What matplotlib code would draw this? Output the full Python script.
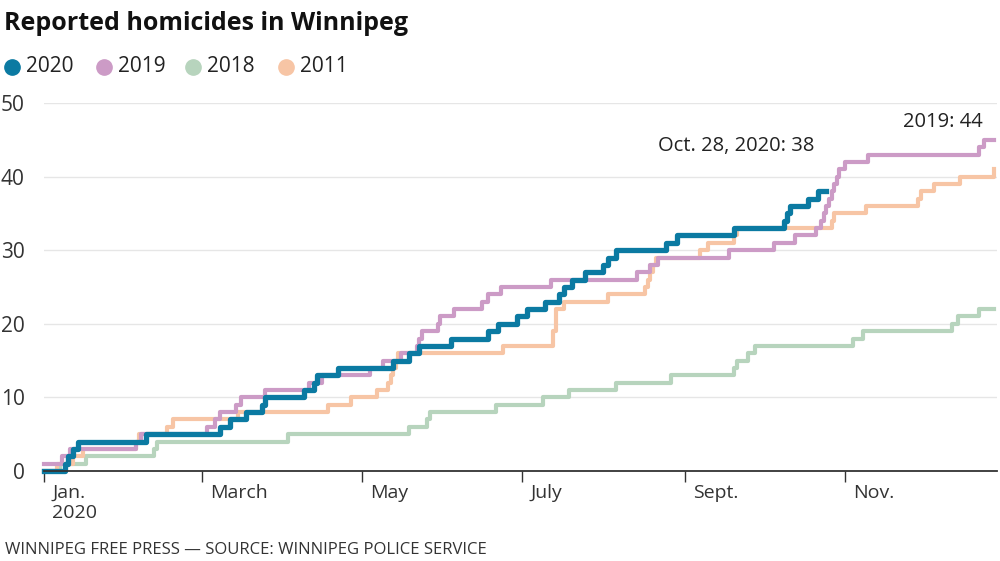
import matplotlib
matplotlib.use("Agg")
import matplotlib.pyplot as plt
from matplotlib.lines import Line2D

plt.rcParams['font.family'] = ['Open Sans', 'DejaVu Sans']

# ---- data (day of year, cumulative count) ----
days20 = [0, 8, 9, 11, 13, 39, 67, 71, 77, 83, 84, 99, 103, 104, 112, 133, 139, 143, 155, 169,
          173, 180, 184, 191, 196, 198, 201, 206, 213, 215, 218, 237, 241, 263, 282, 283, 284, 291, 295, 298]
vals20 = [0, 1, 2, 3, 4, 5, 6, 7, 8, 9, 10, 11, 12, 13, 14, 15, 16, 17, 18, 19,
          20, 21, 22, 23, 24, 25, 26, 27, 28, 29, 30, 31, 32, 33, 34, 35, 36, 37, 38, 38]

days19 = [0, 7, 10, 35, 37, 62, 65, 67, 73, 75, 84, 101, 106, 124, 129, 136, 142, 143, 144, 150,
          151, 156, 167, 169, 174, 193, 226, 231, 234, 261, 278, 286, 294, 296, 297, 298, 299, 300,
          301, 302, 303, 305, 314, 356, 358, 362]
vals19 = [1, 2, 3, 4, 5, 6, 7, 8, 9, 10, 11, 12, 13, 14, 15, 16, 17, 18, 19, 20,
          21, 22, 23, 24, 25, 26, 27, 28, 29, 30, 31, 32, 33, 34, 35, 36, 37, 38,
          39, 40, 41, 42, 43, 44, 45, 45]

days18 = [0, 6, 16, 42, 43, 93, 139, 146, 147, 172, 190, 200, 218, 239, 263, 264, 268, 271,
          308, 312, 346, 348, 356, 362]
vals18 = [0, 1, 2, 3, 4, 5, 6, 7, 8, 9, 10, 11, 12, 13, 14, 15, 16, 17,
          18, 19, 20, 21, 22, 22]

days11 = [0, 5, 11, 15, 35, 36, 47, 49, 74, 108, 117, 127, 131, 132, 133, 134, 135, 175, 194, 194,
          195, 195, 195, 198, 215, 229, 230, 231, 232, 233, 250, 253, 263, 264, 300, 301, 313, 333,
          334, 339, 349, 362]
vals11 = [0, 1, 2, 3, 4, 5, 6, 7, 8, 9, 10, 11, 12, 13, 14, 15, 16, 17, 18, 19,
          20, 21, 22, 23, 24, 25, 26, 27, 28, 29, 30, 31, 32, 33, 34, 35, 36, 37,
          38, 39, 40, 41]

series_names = ["2020", "2019", "2018", "2011"]
colors = {"2020": "#0b7aa2", "2019": "#cc9bc6", "2018": "#b7d4bd", "2011": "#f7c5a5"}

tick_days = [0, 60, 121, 182, 244, 305]
tick_labels = ["Jan.\n2020", "March", "May", "July", "Sept.", "Nov."]
y_ticks = [0, 10, 20, 30, 40, 50]

ann_2020 = "Oct. 28, 2020: 38"
ann_2019 = "2019: 44"

# ---- figure ----
fig = plt.figure(figsize=(10, 5.61), dpi=100)
ax = fig.add_axes([0.044, 0.1604, 0.953, 0.656])
ax.set_xlim(0, 363)
ax.set_ylim(0, 50)

lw_thin = 3.0
ax.step(days18, vals18, where='post', color=colors["2018"], lw=lw_thin, zorder=2, clip_on=False)
ax.step(days11, vals11, where='post', color=colors["2011"], lw=lw_thin, zorder=3, clip_on=False)
ax.step(days19, vals19, where='post', color=colors["2019"], lw=lw_thin, zorder=4, clip_on=False)
ax.step(days20, vals20, where='post', color=colors["2020"], lw=3.8, zorder=5, clip_on=False)

for s in ax.spines.values():
    s.set_visible(False)
ax.spines['bottom'].set_visible(True)
ax.spines['bottom'].set_color('#333333')
ax.spines['bottom'].set_linewidth(1.3)
ax.spines['bottom'].set_zorder(6)

ax.set_yticks(y_ticks)
ax.set_yticklabels([str(v) for v in y_ticks])
ax.tick_params(axis='y', length=0, pad=14, labelsize=15, labelcolor='#333333')
for v in y_ticks[1:]:
    ax.axhline(v, color='#e6e6e6', lw=1.0, zorder=1)

ax.set_xticks(tick_days)
ax.set_xticklabels([])
ax.tick_params(axis='x', length=8, width=1.0, color='#333333', direction='out')
for d, lab in zip(tick_days, tick_labels):
    ax.annotate(lab, xy=(d, 0), xycoords='data', xytext=(6, -9), textcoords='offset points',
                ha='left', va='top', fontsize=14, color='#333333', linespacing=1.15)

ax.text(293.5, 44.2, ann_2020, ha='right', va='center', fontsize=14.5, color='#222222', zorder=7)
ax.text(357.5, 47.4, ann_2019, ha='right', va='center', fontsize=14.5, color='#222222', zorder=7)

# title
fig.text(0.004, 0.958, "Reported homicides in Winnipeg", fontsize=18, fontweight='bold',
         color='#111111', ha='left', va='center')

# legend
leg_x = [0.012, 0.104, 0.193, 0.286]
for xpos, name in zip(leg_x, series_names):
    fig.add_artist(Line2D([xpos], [0.881], marker='o', markersize=11, color=colors[name],
                          linestyle='none', transform=fig.transFigure))
    fig.text(xpos + 0.014, 0.881, name, fontsize=15, color='#222222', ha='left', va='center')

# footer
fig.text(0.005, 0.019, "WINNIPEG FREE PRESS — SOURCE: WINNIPEG POLICE SERVICE", fontsize=12,
         color='#333333', ha='left', va='center')

fig.savefig("out.png", dpi=100)
